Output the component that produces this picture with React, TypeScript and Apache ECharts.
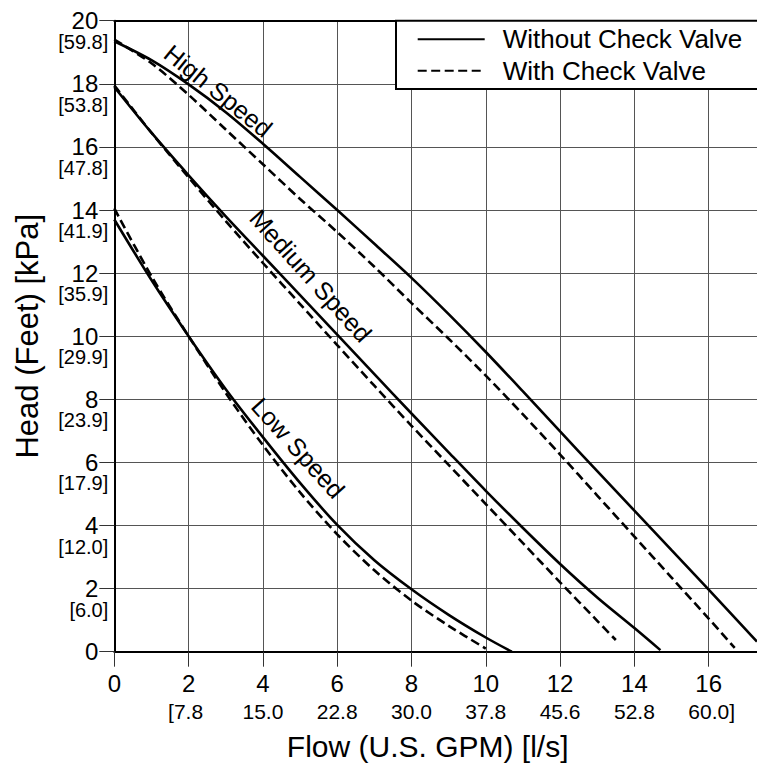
import React, { useEffect, useRef } from "react";
import * as echarts from "echarts";

// ---- tick labels ----
const xBracketLabels = ["", "[7.8", "15.0", "22.8", "30.0", "37.8", "45.6", "52.8", "60.0]"];
const yBracketLabels = ["", "[6.0]", "[12.0]", "[17.9]", "[23.9]", "[29.9]", "[35.9]", "[41.9]", "[47.8]", "[53.8]", "[59.8]"];

// ---- High speed ----
const highFlowWithout = [0, 1, 2, 3, 4, 5, 6, 7, 8, 9, 10, 11, 12, 13, 14, 15, 16, 17, 17.3];
const highHeadWithout = [19.35, 18.75, 17.98, 17.1, 16.1, 15.05, 14.0, 12.93, 11.85, 10.7, 9.5, 8.25, 6.98, 5.72, 4.47, 3.22, 1.97, 0.7, 0.32];
const highFlowWith = [0, 1, 2, 3, 4, 5, 6, 7, 8, 9, 10, 11, 12, 13, 14, 15, 16, 16.7];
const highHeadWith = [19.4, 18.65, 17.65, 16.55, 15.45, 14.35, 13.3, 12.2, 11.05, 9.92, 8.75, 7.52, 6.25, 4.95, 3.65, 2.35, 1.05, 0.12];

// ---- Medium speed ----
const medFlowWithout = [0, 1, 2, 3, 4, 5, 6, 7, 8, 9, 10, 11, 12, 13, 14, 14.7];
const medHeadWithout = [17.9, 16.45, 15.1, 13.8, 12.55, 11.3, 10.05, 8.8, 7.55, 6.32, 5.1, 3.92, 2.78, 1.72, 0.75, 0.05];
const medFlowWith = [0, 1, 2, 3, 4, 5, 6, 7, 8, 9, 10, 11, 12, 13, 13.5];
const medHeadWith = [17.95, 16.45, 15.03, 13.65, 12.32, 11.02, 9.72, 8.43, 7.16, 5.92, 4.68, 3.44, 2.2, 0.98, 0.37];

// ---- Low speed ----
const lowFlowWithout = [0, 1, 2, 3, 4, 5, 6, 7, 8, 9, 10, 10.7];
const lowHeadWithout = [13.7, 11.78, 10.0, 8.32, 6.8, 5.35, 4.02, 2.9, 1.98, 1.17, 0.45, 0.0];
const lowFlowWith = [0, 1, 2, 3, 4, 5, 6, 7, 8, 9, 10];
const lowHeadWith = [14.05, 11.9, 10.0, 8.2, 6.55, 5.05, 3.72, 2.58, 1.62, 0.82, 0.1];

// ---- curve labels (data coords) ----
const curveLabelText = ["High Speed", "Medium Speed", "Low Speed"];
const curveLabelFlow = [2.8, 5.29, 4.95];
const curveLabelHead = [17.78, 11.92, 6.46];
const curveLabelAngle = [-39, -48, -48];

const FONT = "'Liberation Sans', Arial, Helvetica, sans-serif";
const zip = (xs: number[], ys: number[]) => xs.map((x, i) => [x, ys[i]]);

const solidStyle = { color: "#000", width: 2.6, type: "solid" as const };
const dashStyle = { color: "#000", width: 2.6, type: [9, 4.5] as any };

export default function App() {
  const ref = useRef<HTMLDivElement>(null);
  useEffect(() => {
    document.body.style.margin = "0";
    if (!ref.current) return;
    const chart = echarts.init(ref.current, undefined, { renderer: "svg" });
    const mk = (name: string, data: number[][], dashed: boolean) => ({
      type: "line",
      name,
      data,
      smooth: 0.3,
      symbol: "none",
      showSymbol: false,
      lineStyle: dashed ? dashStyle : solidStyle,
      itemStyle: { color: "#000" },
      z: 2,
    });
    const isMajor = (v: number) => Math.abs(v / 2 - Math.round(v / 2)) < 1e-6 && v <= 16.5;
    const option: any = {
      animation: false,
      textStyle: { fontFamily: FONT },
      grid: { left: 114.3, top: 20.7, right: -26, bottom: 112.3, outerBoundsMode: "none", containLabel: false },
      legend: {
        data: ["Without Check Valve", "With Check Valve"],
        orient: "vertical",
        left: 416.7,
        top: 26.3,
        padding: 0,
        itemWidth: 67,
        itemHeight: 2,
        itemGap: 5.4,
        selectedMode: false,
        z: 5,
        itemStyle: { opacity: 0 },
        textStyle: { fontSize: 26, lineHeight: 26, color: "#000", fontFamily: FONT, padding: [0, 0, 0, 13] },
      },
      graphic: [
        {
          type: "rect",
          z: 3,
          shape: { x: 396, y: 20.7, width: 400, height: 68.3 },
          style: { fill: "#fff", stroke: "#000", lineWidth: 2 },
        },
      ],
      xAxis: [
        {
          type: "value",
          min: 0,
          max: 18,
          interval: 2,
          position: "bottom",
          axisLine: { show: true, onZero: false, lineStyle: { color: "#000", width: 2 } },
          axisTick: { show: true, length: 15, lineStyle: { color: "#333", width: 1 } },
          axisLabel: {
            fontSize: 24,
            margin: 20,
            color: "#000",
            fontFamily: FONT,
            formatter: (v: number) => (isMajor(v) ? String(v) : ""),
          },
          splitLine: { show: true, lineStyle: { color: "#555", width: 1 } },
          name: "Flow (U.S. GPM) [l/s]",
          nameLocation: "middle",
          nameGap: 80,
          nameTextStyle: { fontSize: 30, color: "#000", fontFamily: FONT, padding: [0, 42, 0, 0] },
        },
        {
          type: "value",
          min: 0,
          max: 18,
          interval: 2,
          position: "bottom",
          axisLine: { show: false },
          axisTick: { show: false },
          splitLine: { show: false },
          axisLabel: {
            margin: 49,
            color: "#000",
            fontSize: 21,
            fontFamily: FONT,
            formatter: (v: number) => {
              if (!isMajor(v)) return "";
              const t = xBracketLabels[Math.round(v / 2)] || "";
              if (!t) return "";
              if (t.startsWith("[")) return "{b|" + t + "}{s| }";
              if (t.endsWith("]")) return "{s| }{b|" + t + "}";
              return "{b|" + t + "}";
            },
            rich: {
              b: { fontSize: 21, color: "#000", fontFamily: FONT },
              s: { width: 6, fontSize: 21 },
            },
          },
        },
        {
          type: "value",
          min: 0,
          max: 18,
          interval: 2,
          position: "top",
          axisLine: { show: true, onZero: false, lineStyle: { color: "#000", width: 2 } },
          axisTick: { show: false },
          axisLabel: { show: false },
          splitLine: { show: false },
        },
      ],
      yAxis: [
        {
          type: "value",
          min: 0,
          max: 20,
          interval: 2,
          position: "left",
          axisLine: { show: true, onZero: false, lineStyle: { color: "#000", width: 2 } },
          axisTick: { show: true, length: 15, lineStyle: { color: "#333", width: 1 } },
          axisLabel: {
            margin: 6,
            color: "#000",
            fontFamily: FONT,
            formatter: (v: number) => {
              const b = yBracketLabels[Math.round(v / 2)] || " ";
              return "{e| }\n{a|" + v + "}\n{b|" + b + "}";
            },
            rich: {
              e: { fontSize: 20, lineHeight: 20 },
              a: { fontSize: 24, lineHeight: 22, color: "#000", fontFamily: FONT, padding: [0, 10, 0, 0] },
              b: { fontSize: 20, lineHeight: 20, color: "#000", fontFamily: FONT },
            },
          },
          splitLine: { show: true, lineStyle: { color: "#555", width: 1 } },
          name: "Head (Feet) [kPa]",
          nameLocation: "middle",
          nameRotate: 90,
          nameGap: 71,
          nameTextStyle: { fontSize: 31, color: "#000", fontFamily: FONT },
        },
      ],
      series: [
        mk("Without Check Valve", zip(highFlowWithout, highHeadWithout), false),
        mk("With Check Valve", zip(highFlowWith, highHeadWith), true),
        mk("Without Check Valve", zip(medFlowWithout, medHeadWithout), false),
        mk("With Check Valve", zip(medFlowWith, medHeadWith), true),
        mk("Without Check Valve", zip(lowFlowWithout, lowHeadWithout), false),
        mk("With Check Valve", zip(lowFlowWith, lowHeadWith), true),
        {
          type: "scatter",
          name: "curve labels",
          symbolSize: 0,
          silent: true,
          z: 3,
          itemStyle: { color: "#000", opacity: 0 },
          data: curveLabelText.map((t, i) => ({
            value: [curveLabelFlow[i], curveLabelHead[i]],
            label: {
              show: true,
              formatter: t,
              position: "inside",
              rotate: curveLabelAngle[i],
              fontSize: 25,
              color: "#000",
              opacity: 1,
              textBorderWidth: 0,
              fontFamily: FONT,
            },
          })),
        },
      ],
    };
    chart.setOption(option);
    return () => chart.dispose();
  }, []);
  return <div ref={ref} style={{ width: 757, height: 764 }} />;
}
